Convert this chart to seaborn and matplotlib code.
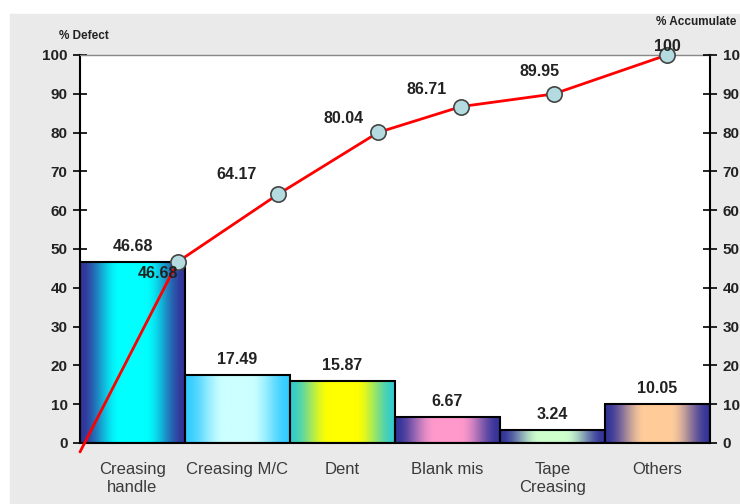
import seaborn as sns
import pandas as pd
import numpy as np
import matplotlib.pyplot as plt
from matplotlib.patches import Rectangle
from matplotlib.colors import to_rgb

# data
categories = ["Creasing\nhandle", "Creasing M/C", "Dent", "Blank mis", "Tape\nCreasing", "Others"]
defect_pct = [46.68, 17.49, 15.87, 6.67, 3.24, 10.05]
cum_pct = [-2.3, 46.68, 64.17, 80.04, 86.71, 89.95, 100]
cum_labels = ["", "46.68", "64.17", "80.04", "86.71", "89.95", "100"]
# where the line points sit along the category axis
cum_x = [-0.5, 0.43, 1.39, 2.34, 3.13, 4.01, 5.09]

# gradient colours per bar: (edge, centre)
grad = [("#333399", "#00FFFF"), ("#33CCFF", "#CCFFFF"), ("#33CCCC", "#FFFF00"),
        ("#333399", "#FF99CC"), ("#333399", "#CCFFCC"), ("#333399", "#FFCC99")]

sns.set_style("white")
plt.rcParams['font.family'] = ['Liberation Sans', 'DejaVu Sans']

df = pd.DataFrame({"cat": categories, "pct": defect_pct})

fig = plt.figure(figsize=(7.4, 5.04), dpi=100)
fig.patches.append(Rectangle((10/740, 0), 1, 490/504, transform=fig.transFigure,
                             color="#EAEAEA", zorder=-10))
ax = fig.add_axes([80/740, 61/504, 630/740, 388/504])
ax.set_facecolor("white")

sns.barplot(data=df, x="cat", y="pct", width=1.0, fill=False, edgecolor="black",
            linewidth=1.5, ax=ax, zorder=3)

# gradient fill clipped to each bar (edge -> centre -> edge)
t = np.linspace(0, 1, 300)
u = np.clip((0.5 - np.abs(t - 0.5)) / 0.38, 0, 1)
w = u * u * (3 - 2 * u)
for i, (bar, (c0, c1)) in enumerate(zip(ax.patches, grad)):
    a, b = np.array(to_rgb(c0)), np.array(to_rgb(c1))
    img = (a[None, :] * (1 - w[:, None]) + b[None, :] * w[:, None])[None, :, :]
    x0, y0 = bar.get_x(), bar.get_y()
    im = ax.imshow(img, extent=[x0, x0 + bar.get_width(), y0, y0 + bar.get_height()],
                   aspect="auto", zorder=2, interpolation="bilinear")
    im.set_clip_path(bar)

for i, v in enumerate(defect_pct):
    ax.annotate(f"{v:.2f}", (i, v), xytext=(0, 6), textcoords="offset points",
                ha="center", va="bottom", fontsize=11.5, fontweight="bold", color="#222")

ax.set_xlim(-0.5, 5.5)
ax.set_ylim(0, 100)
ax.set_yticks(range(0, 101, 10))
ax.set_xlabel("")
ax.set_ylabel("")
ax.tick_params(axis="y", direction="inout", length=10, width=1.2, labelsize=11,
               colors="black", pad=4)
for lab in ax.get_yticklabels():
    lab.set_fontweight("bold")
    lab.set_color("#222")
ax.tick_params(axis="x", which="major", length=0, labelsize=12, labelcolor="#3a3a3a", pad=14)
ax.set_xticks(np.arange(-0.5, 6, 1), minor=True)
ax.tick_params(axis="x", which="minor", direction="out", length=5, width=1.2, color="black")
for s in ["left", "bottom", "right"]:
    ax.spines[s].set_color("black")
    ax.spines[s].set_linewidth(1.5)
ax.spines["top"].set_color("#888")
ax.spines["top"].set_linewidth(1)

ax2 = ax.twinx()
ax2.set_ylim(0, 100)
ax2.set_yticks(range(0, 101, 10))
ax2.tick_params(axis="y", direction="inout", length=10, width=1.2, labelsize=11,
                colors="black", pad=4)
for lab in ax2.get_yticklabels():
    lab.set_fontweight("bold")
    lab.set_color("#222")
for s in ax2.spines.values():
    s.set_visible(False)

# cumulative line
ax2.plot(cum_x, cum_pct, color="red", lw=2, zorder=5, clip_on=False)
ax2.plot(cum_x[1:], cum_pct[1:], "o", ms=11, mfc="#B4DCE0", mec="#444", mew=1.2,
         zorder=6, clip_on=False)
offsets = [(0, 0), (-14, -3), (-30, 9), (-25, 5), (-25, 7), (-10, 11), (0, 1)]
for x, y, s, (dx, dy) in zip(cum_x, cum_pct, cum_labels, offsets):
    if s:
        ax2.annotate(s, (x, y), xytext=(dx, dy), textcoords="offset points",
                     ha="center", va="bottom" if dy > 0 else "top",
                     fontsize=11.5, fontweight="bold", color="#222", zorder=7)

fig.text(84/740, 1 - 36/504, "% Defect", ha="center", va="center",
         fontsize=8.5, fontweight="bold", color="#222")
fig.text(656/740, 1 - 22/504, "% Accumulate", ha="left", va="center",
         fontsize=8.5, fontweight="bold", color="#222")

fig.savefig("out.png", dpi=100)
